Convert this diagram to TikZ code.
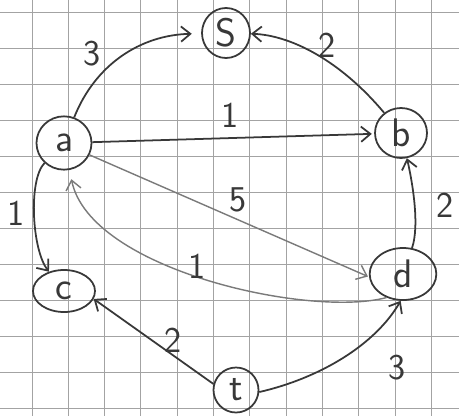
\documentclass[tikz,border=0pt]{standalone}
\usepackage{xcolor}
\colorlet{colPen}{black!78}
\colorlet{colPencil}{black!52}
\colorlet{colGrid}{black!36}
\usepackage{tikz}
\usetikzlibrary{arrows.meta, shapes.geometric}

\begin{document}
\begin{tikzpicture}[
		x=0.03cm, y=-0.03cm,
		vtx/.style={draw=colPen, ellipse, line width=1.5pt, inner sep=0pt,
			font=\fontsize{34}{36}\selectfont\sffamily, text=colPen},
		wgt/.style={font=\fontsize{31}{33}\selectfont\sffamily, text=colPen},
		pen/.style={->, line width=1.5pt, draw=colPen},
		pencil/.style={->, line width=1.2pt, draw=colPencil},
		>={Straight Barb[length=8pt, width=13pt]}
	]
	\useasboundingbox[fill=white] (0,0) rectangle (459,416);

	% ===== Squared paper =====
	\foreach \i in {0,...,11}
		\draw[colGrid, line width=0.7pt] ({32+36.3*\i},0) -- ({32+36.3*\i},416);
	\foreach \j in {0,...,11}
		\draw[colGrid, line width=0.7pt] (0,{12+36*\j}) -- (459,{12+36*\j});

	% ===== Vertices =====
	\node[vtx, minimum width=1.44cm, minimum height=1.5cm]  (s) at (226,33)  {S};
	\node[vtx, minimum width=1.65cm, minimum height=1.6cm]  (a) at (64,143)  {a};
	\node[vtx, minimum width=1.56cm, minimum height=1.5cm]  (b) at (401,133) {b};
	\node[vtx, minimum width=1.86cm, minimum height=1.26cm] (c) at (64,291)  {c};
	\node[vtx, minimum width=2.0cm,  minimum height=1.56cm] (d) at (403,274) {d};
	\node[vtx, minimum width=1.35cm, minimum height=1.35cm] (t) at (236,390) {t};

	% ===== Edges =====
	\draw[pen, shorten >=8pt] (a) .. controls (95,65) and (140,35) .. (s);
	\draw[pen] (b) .. controls (340,60) and (290,35) .. (s);
	\draw[pen, shorten >=2pt] (a) -- (b);
	\draw[pen] (a) .. controls (28,180) and (32,250) .. (c);
	\draw[pen] (d) .. controls (420,225) and (412,180) .. (b);
	\draw[pencil, shorten >=1pt] (a.-25) -- (d.185);
	\draw[pencil, shorten >=8pt] (d.235) .. controls (310,318) and (90,270) .. (a);
	\draw[pen] (t.165) -- (c.-15);
	\draw[pen] (t.-5) .. controls (320,378) and (375,345) .. (d.-95);

	% ===== Weights =====
	\node[wgt] (w3as) at (92,54)   {3};
	\node[wgt] (w2bs) at (327,45)  {2};
	\node[wgt] (w1ab) at (230,115) {1};
	\node[wgt] (w1ac) at (16,213)  {1};
	\node[wgt] (w5ad) at (238,200) {5};
	\node[wgt] (w1da) at (197,266) {1};
	\node[wgt] (w2db) at (445,205) {2};
	\node[wgt] (w2tc) at (173,340) {2};
	\node[wgt] (w3td) at (397,368) {3};
\end{tikzpicture}
\end{document}
